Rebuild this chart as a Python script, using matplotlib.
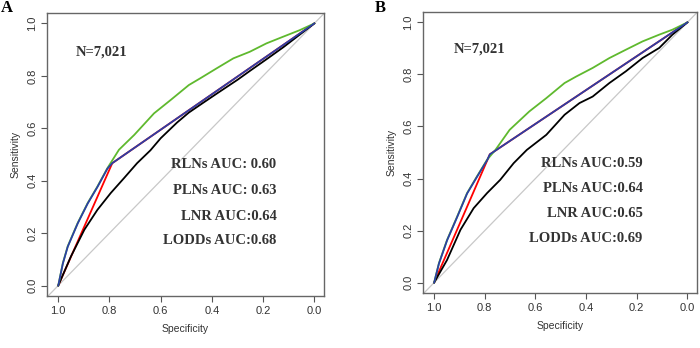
import matplotlib
matplotlib.use("Agg")
import matplotlib.pyplot as plt

# panel A curves (specificity, sensitivity)
a_lodds_spec = [1.0, 0.982, 0.963, 0.924, 0.885, 0.847, 0.808, 0.763, 0.703, 0.626, 0.561, 0.490, 0.445, 0.381, 0.316, 0.252, 0.187, 0.123, 0.058, 0.0]
a_lodds_sens = [0.0, 0.086, 0.150, 0.239, 0.315, 0.378, 0.448, 0.518, 0.575, 0.657, 0.708, 0.765, 0.791, 0.829, 0.867, 0.892, 0.924, 0.949, 0.974, 1.0]
a_plns_spec = [1.0, 0.982, 0.963, 0.924, 0.885, 0.847, 0.808, 0.789, 0.0]
a_plns_sens = [0.0, 0.084, 0.148, 0.237, 0.313, 0.376, 0.446, 0.467, 1.0]
a_rlns_spec = [1.0, 0.789, 0.0]
a_rlns_sens = [0.0, 0.467, 1.0]
a_lnr_spec = [1.0, 0.950, 0.898, 0.847, 0.795, 0.743, 0.692, 0.640, 0.600, 0.536, 0.490, 0.430, 0.380, 0.300, 0.250, 0.180, 0.120, 0.060, 0.0]
a_lnr_sens = [0.0, 0.112, 0.213, 0.289, 0.353, 0.410, 0.467, 0.516, 0.562, 0.622, 0.660, 0.700, 0.733, 0.785, 0.820, 0.868, 0.910, 0.955, 1.0]

# panel B curves
b_lodds_spec = [1.0, 0.981, 0.949, 0.909, 0.870, 0.831, 0.791, 0.758, 0.702, 0.624, 0.557, 0.485, 0.439, 0.374, 0.308, 0.243, 0.177, 0.111, 0.059, 0.0]
b_lodds_sens = [0.0, 0.075, 0.164, 0.254, 0.344, 0.408, 0.472, 0.510, 0.587, 0.658, 0.709, 0.767, 0.792, 0.825, 0.863, 0.895, 0.927, 0.953, 0.972, 1.0]
b_plns_spec = [1.0, 0.981, 0.949, 0.909, 0.870, 0.831, 0.791, 0.780, 0.0]
b_plns_sens = [0.0, 0.073, 0.162, 0.252, 0.342, 0.406, 0.470, 0.493, 1.0]
b_rlns_spec = [1.0, 0.780, 0.0]
b_rlns_sens = [0.0, 0.493, 1.0]
b_lnr_spec = [1.0, 0.949, 0.896, 0.844, 0.791, 0.739, 0.686, 0.634, 0.557, 0.485, 0.426, 0.374, 0.308, 0.243, 0.177, 0.111, 0.059, 0.0]
b_lnr_sens = [0.0, 0.087, 0.203, 0.286, 0.344, 0.395, 0.459, 0.510, 0.568, 0.645, 0.690, 0.715, 0.767, 0.812, 0.863, 0.902, 0.953, 1.0]

labels_a = ["RLNs AUC: 0.60", "PLNs AUC: 0.63", "LNR AUC:0.64", "LODDs AUC:0.68"]
labels_b = ["RLNs AUC:0.59", "PLNs AUC:0.64", "LNR AUC:0.65", "LODDs AUC:0.69"]
n_text = "N=7,021"
ticks = [1.0, 0.8, 0.6, 0.4, 0.2, 0.0]

W, H = 700, 348
fig = plt.figure(figsize=(7, 3.48), dpi=100)


def panel(box, letter, letter_xy, curves, labels, lab_x, lab_y, n_xy):
    l, r, t, b = box
    ax = fig.add_axes([l / W, (H - b) / H, (r - l) / W, (b - t) / H])
    ax.set_xlim(1.044, -0.038)
    ax.set_ylim(-0.04, 1.04)
    ax.plot([1.2, -0.2], [-0.2, 1.2], color="#c8c8c8", lw=0.9, zorder=1)
    for spec, sens, col in curves:
        ax.plot(spec, sens, color=col, lw=1.3, zorder=2)
    ax.set_xticks(ticks)
    ax.set_yticks(ticks[::-1])
    ax.set_xticklabels(["%.1f" % v for v in ticks], fontsize=8, family="Liberation Sans", color="#333333")
    ax.set_yticklabels(["%.1f" % v for v in ticks[::-1]], fontsize=8, family="Liberation Sans",
                       color="#333333", rotation=90, va="center")
    ax.tick_params(length=4, width=0.8, color="#555555", pad=3)
    for s in ax.spines.values():
        s.set_color("#666666")
        s.set_linewidth(1.0)
    ax.set_xlabel("Specificity", fontsize=7.5, family="Liberation Sans", color="#333333", labelpad=6)
    ax.set_ylabel("Sensitivity", fontsize=7.5, family="Liberation Sans", color="#333333", labelpad=5)
    for txt, yy in zip(labels, lab_y):
        ax.text(lab_x, yy, txt, ha="right", va="center", fontsize=10.5, fontweight="bold",
                family="Liberation Serif", color="#333333")
    ax.text(n_xy[0], n_xy[1], n_text, ha="center", va="center", fontsize=10.5, fontweight="bold",
            family="Liberation Serif", color="#333333")
    fig.text(letter_xy[0] / W, 1 - letter_xy[1] / H, letter, fontsize=12, fontweight="bold",
             family="Liberation Serif", ha="left", va="top")
    return ax


panel((47, 324, 13, 296), "A", (1, 0),
      [(a_rlns_spec, a_rlns_sens, "red"), (a_lnr_spec, a_lnr_sens, "black"),
       (a_lodds_spec, a_lodds_sens, "#5fb92e"), (a_plns_spec, a_plns_sens, "#2b3fa5")],
      labels_a, 0.148, [0.461, 0.363, 0.264, 0.173], (0.832, 0.892))
panel((423, 697, 12, 293), "B", (375, 0),
      [(b_rlns_spec, b_rlns_sens, "red"), (b_lnr_spec, b_lnr_sens, "black"),
       (b_lodds_spec, b_lodds_sens, "#5fb92e"), (b_plns_spec, b_plns_sens, "#2b3fa5")],
      labels_b, 0.177, [0.459, 0.362, 0.267, 0.169], (0.82, 0.897))

fig.savefig("out.png", dpi=100)
